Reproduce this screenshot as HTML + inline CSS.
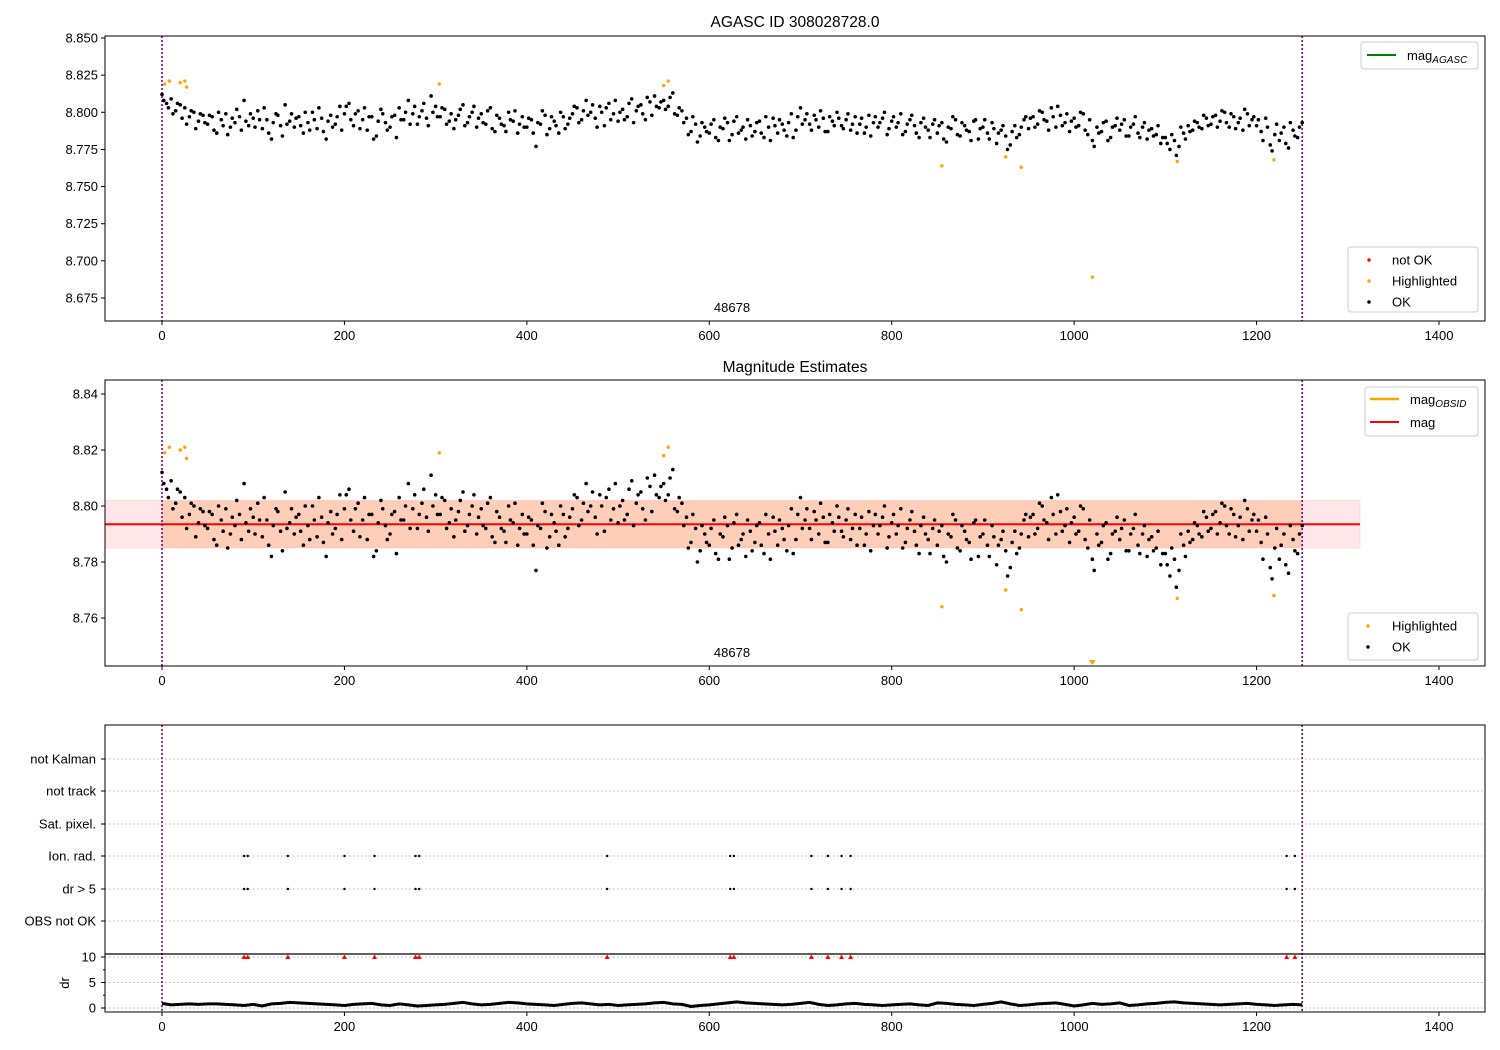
<!DOCTYPE html>
<html><head><meta charset="utf-8">
<style>
html,body{margin:0;padding:0;background:#fff;}
svg{display:block;font-family:"Liberation Sans","DejaVu Sans",sans-serif;}
</style></head>
<body>
<svg id="chart" width="1500" height="1050" viewBox="0 0 1500 1050" xmlns="http://www.w3.org/2000/svg"></svg>
<script>
// ---- data ----
const mags = [
8.812,8.806,8.809,8.801,8.805,8.803,8.797,8.800,8.794,8.798,
8.792,8.797,8.786,8.795,8.799,8.790,8.793,8.797,8.808,8.791,
8.796,8.801,8.789,8.795,8.782,8.799,8.791,8.805,8.794,8.790,
8.797,8.786,8.793,8.800,8.789,8.796,8.782,8.798,8.792,8.804,
8.799,8.806,8.791,8.801,8.795,8.788,8.797,8.784,8.802,8.793,
8.790,8.798,8.803,8.795,8.808,8.799,8.792,8.801,8.796,8.811,
8.804,8.797,8.802,8.794,8.789,8.798,8.805,8.793,8.800,8.790,
8.799,8.792,8.803,8.787,8.796,8.791,8.800,8.794,8.786,8.797,
8.790,8.795,8.777,8.792,8.798,8.789,8.794,8.786,8.797,8.792,
8.799,8.803,8.795,8.808,8.800,8.796,8.804,8.791,8.806,8.799,
8.794,8.802,8.797,8.809,8.801,8.805,8.795,8.807,8.811,8.803,
8.808,8.804,8.813,8.798,8.801,8.796,8.787,8.792,8.784,8.790,
8.786,8.795,8.781,8.789,8.793,8.785,8.797,8.788,8.782,8.791,
8.787,8.794,8.783,8.790,8.796,8.786,8.792,8.784,8.799,8.788,
8.803,8.795,8.792,8.798,8.790,8.796,8.787,8.794,8.800,8.791,
8.795,8.788,8.797,8.792,8.786,8.798,8.793,8.790,8.796,8.785,
8.794,8.790,8.799,8.787,8.795,8.791,8.783,8.796,8.788,8.792,
8.786,8.793,8.780,8.789,8.795,8.784,8.791,8.787,8.794,8.782,
8.790,8.786,8.793,8.779,8.788,8.784,8.778,8.791,8.785,8.795,
8.789,8.797,8.792,8.800,8.794,8.803,8.790,8.798,8.793,8.787,
8.796,8.791,8.799,8.785,8.781,8.790,8.787,8.794,8.783,8.791,
8.788,8.795,8.784,8.792,8.786,8.790,8.782,8.789,8.785,8.779,
8.783,8.775,8.781,8.777,8.786,8.791,8.788,8.793,8.789,8.796,
8.792,8.798,8.794,8.800,8.790,8.797,8.793,8.788,8.799,8.795,
8.791,8.787,8.796,8.778,8.785,8.781,8.790,8.776,8.788,8.783,
8.793];
const magStep = 5;
const magsB = [
8.808,8.803,8.799,8.806,8.796,8.792,8.801,8.789,8.799,8.793,
8.798,8.788,8.800,8.791,8.785,8.796,8.802,8.788,8.794,8.799,
8.790,8.795,8.803,8.786,8.793,8.798,8.784,8.792,8.799,8.796,
8.791,8.800,8.788,8.795,8.803,8.787,8.794,8.790,8.797,8.788,
8.804,8.795,8.799,8.789,8.803,8.797,8.782,8.794,8.799,8.788,
8.797,8.783,8.795,8.800,8.792,8.804,8.797,8.806,8.791,8.800,
8.797,8.803,8.792,8.799,8.795,8.802,8.791,8.797,8.804,8.796,
8.793,8.801,8.789,8.798,8.792,8.787,8.795,8.801,8.792,8.790,
8.796,8.786,8.793,8.801,8.785,8.797,8.791,8.800,8.789,8.796,
8.804,8.793,8.801,8.798,8.805,8.790,8.800,8.803,8.795,8.808,
8.800,8.795,8.806,8.793,8.804,8.799,8.810,8.798,8.804,8.807,
8.802,8.810,8.799,8.803,8.793,8.785,8.797,8.780,8.793,8.787,
8.792,8.783,8.790,8.796,8.781,8.794,8.786,8.790,8.795,8.784,
8.793,8.786,8.797,8.781,8.791,8.795,8.788,8.793,8.783,8.797,
8.792,8.799,8.788,8.795,8.801,8.787,8.797,8.791,8.796,8.789,
8.799,8.792,8.786,8.796,8.790,8.784,8.797,8.793,8.800,8.789,
8.797,8.793,8.785,8.792,8.798,8.786,8.793,8.790,8.783,8.795,
8.791,8.782,8.790,8.797,8.785,8.793,8.788,8.781,8.795,8.789,
8.795,8.782,8.789,8.786,8.791,8.775,8.787,8.783,8.790,8.797,
8.796,8.790,8.801,8.795,8.788,8.797,8.804,8.791,8.799,8.794,
8.790,8.800,8.788,8.795,8.777,8.786,8.793,8.781,8.790,8.796,
8.792,8.784,8.790,8.797,8.783,8.793,8.788,8.784,8.791,8.783,
8.779,8.785,8.771,8.790,8.782,8.787,8.794,8.790,8.798,8.791,
8.797,8.790,8.801,8.793,8.799,8.789,8.796,8.802,8.791,8.797,
8.795,8.781,8.790,8.774,8.792,8.786,8.779,8.793,8.784,8.790];
const magsBStart = 2;
const hiIdx = [3,8,20,25,27,304,550,555,855,925,942,1020,1113,1219];
const hiMag = [8.819,8.821,8.820,8.821,8.817,8.819,8.818,8.821,8.764,8.770,8.763,8.689,8.767,8.768];
const eventIdx = [90,94,138,200,233,278,282,488,623,627,712,730,745,755,1233,1242];
const drVals = [
0.9,0.6,0.7,0.8,0.7,0.8,0.8,0.7,0.6,0.5,
0.7,0.4,0.8,0.9,1.1,1.0,0.9,0.8,0.7,0.6,
0.5,0.7,0.8,0.9,0.6,0.5,0.8,0.6,0.4,0.5,
0.6,0.7,0.9,1.1,0.8,0.6,0.7,0.9,1.1,1.0,
0.8,0.7,0.6,0.5,0.7,0.9,1.0,0.8,0.6,0.7,
0.5,0.6,0.7,0.8,1.0,1.1,0.8,0.7,0.3,0.5,
0.6,0.8,1.0,1.2,1.0,0.9,0.8,0.7,0.6,0.7,
0.9,1.1,0.7,0.5,0.6,0.8,0.9,0.7,0.6,0.5,
0.6,0.7,0.8,0.6,0.5,1.0,0.9,0.7,0.6,0.5,
0.7,0.9,1.2,0.8,0.5,0.6,0.8,0.9,1.0,0.7,
0.4,0.6,0.9,0.7,0.8,1.0,0.5,0.6,0.8,0.9,
1.1,1.2,1.0,0.9,0.8,0.7,0.6,0.7,0.8,0.9,
0.7,0.6,0.5,0.6,0.7,0.6];
const drStep = 10;
const xTicks = [0,200,400,600,800,1000,1200,1400];
const y1Ticks = [8.675,8.700,8.725,8.750,8.775,8.800,8.825,8.850];
const y2Ticks = [8.76,8.78,8.80,8.82,8.84];
const catLabels = ["not Kalman","not track","Sat. pixel.","Ion. rad.","dr > 5","OBS not OK"];
const drTicks = [0,5,10];
const magMean = 8.7935, bandLo = 8.785, bandHi = 8.802;

// ---- helpers ----
const svg = document.getElementById('chart');
const NS = 'http://www.w3.org/2000/svg';
function mk(tag, attrs, parent){const e=document.createElementNS(NS,tag);for(const k in attrs)e.setAttribute(k,attrs[k]);(parent||svg).appendChild(e);return e;}
function txt(s, attrs, parent){const e=mk('text',attrs,parent);e.textContent=s;return e;}
const L=105,R=1485;
const x = v => 162 + v*(1277/1400);
const y1 = v => 38 + (8.850 - v)*(260/0.175);
const y2 = v => 394 + (8.840 - v)*(56/0.02);
const catY = [759,791,824,856,889,921];
const yd = v => 1008 - v*(51/10);

function frame(top,bot,name){
  const r=mk('rect',{x:L,y:top,width:R-L,height:bot-top,fill:'none',stroke:'#000','stroke-width':1});
  
}
function xAxis(bot,name){
  const g=mk('g',{});
  xTicks.forEach(t=>{mk('line',{x1:x(t),x2:x(t),y1:bot,y2:bot+4,stroke:'#000'},g);
    txt(String(t),{x:x(t),y:bot+19,'font-size':13,'text-anchor':'middle'},g);});
}
function vlines(top,bot){
  [0,1250].forEach(t=>{const l=mk('line',{x1:x(t),x2:x(t),y1:top,y2:bot,stroke:'#800080','stroke-width':1.6,'stroke-dasharray':'2,2'});
    });
}
function drawMags(g, yf){
  mags.forEach((m,i)=>mk('circle',{cx:x(i*magStep),cy:yf(m),r:1.8,fill:'#000'},g));
  magsB.forEach((m,i)=>mk('circle',{cx:x(magsBStart+i*magStep),cy:yf(m),r:1.8,fill:'#000'},g));
}

// ---- Panel 1 ----
const P1T=36,P1B=321;
txt('AGASC ID 308028728.0',{x:795,y:27,'font-size':15.5,'text-anchor':'middle',});
{const g=mk('g',{});
 y1Ticks.forEach(t=>{mk('line',{x1:L-4,x2:L,y1:y1(t),y2:y1(t),stroke:'#000'},g);
  txt(t.toFixed(3),{x:L-7,y:y1(t)+4.5,'font-size':13,'text-anchor':'end'},g);});}
vlines(P1T,P1B);
{const g=mk('g',{});
 drawMags(g,y1);
 const h=mk('g',{});
 hiIdx.forEach((t,i)=>mk('circle',{cx:x(t),cy:y1(hiMag[i]),r:1.7,fill:'orange'},h));}
txt('48678',{x:732,y:312,'font-size':13,'text-anchor':'middle',});
frame(P1T,P1B,'plot-area-panel1');
xAxis(P1B,'x-axis-panel1');
{const g=mk('g',{});
 mk('rect',{x:1361,y:42,width:117,height:27,rx:3,fill:'#fff',stroke:'#ccc'},g);
 mk('line',{x1:1367,x2:1396,y1:55,y2:55,stroke:'green','stroke-width':2},g);
 const t=txt('mag',{x:1407,y:60,'font-size':13},g);
 const s=mk('tspan',{'font-size':10,'font-style':'italic',dy:3},t);s.textContent='AGASC';}
{const g=mk('g',{});
 mk('rect',{x:1348,y:247,width:130,height:65,rx:3,fill:'#fff',stroke:'#ccc'},g);
 [['not OK','red',260],['Highlighted','orange',281],['OK','#000',302]].forEach(a=>{
  mk('circle',{cx:1369,cy:a[2],r:1.7,fill:a[1]},g);txt(a[0],{x:1392,y:a[2]+4.5,'font-size':13},g);});}

// ---- Panel 2 ----
const P2T=380,P2B=666;
txt('Magnitude Estimates',{x:795,y:372,'font-size':15.5,'text-anchor':'middle',});
{const g=mk('g',{});
 y2Ticks.forEach(t=>{mk('line',{x1:L-4,x2:L,y1:y2(t),y2:y2(t),stroke:'#000'},g);
  txt(t.toFixed(2),{x:L-7,y:y2(t)+4.5,'font-size':13,'text-anchor':'end'},g);});}
{const b=mk('rect',{x:L,y:y2(bandHi),width:1360-L,height:y2(bandLo)-y2(bandHi),fill:'#ffb6c1','fill-opacity':0.35,stroke:'#ffb6c1','stroke-opacity':0.4});
 
 const b2=mk('rect',{x:x(0),y:y2(bandHi),width:x(1250)-x(0),height:y2(bandLo)-y2(bandHi),fill:'#ffa060','fill-opacity':0.35});
 
 const l=mk('line',{x1:L,x2:1360,y1:y2(magMean),y2:y2(magMean),stroke:'red','stroke-width':2});
 }
vlines(P2T,P2B);
{const g=mk('g',{});
 drawMags(g,y2);
 const h=mk('g',{});
 hiIdx.forEach((t,i)=>{const yy=y2(hiMag[i]);
  if(yy>P2B){mk('path',{d:`M${x(t)-3.5},${P2B-6} L${x(t)+3.5},${P2B-6} L${x(t)},${P2B-1} Z`,fill:'orange'},h);}
  else mk('circle',{cx:x(t),cy:yy,r:1.7,fill:'orange'},h);});}
txt('48678',{x:732,y:657,'font-size':13,'text-anchor':'middle',});
frame(P2T,P2B,'plot-area-panel2');
xAxis(P2B,'x-axis-panel2');
{const g=mk('g',{});
 mk('rect',{x:1365,y:387,width:113,height:49,rx:3,fill:'#fff',stroke:'#ccc'},g);
 mk('line',{x1:1370,x2:1399,y1:399,y2:399,stroke:'orange','stroke-width':2.5},g);
 const t=txt('mag',{x:1410,y:404,'font-size':13},g);
 const s=mk('tspan',{'font-size':10,'font-style':'italic',dy:3},t);s.textContent='OBSID';
 mk('line',{x1:1370,x2:1399,y1:422,y2:422,stroke:'red','stroke-width':2},g);
 txt('mag',{x:1410,y:427,'font-size':13},g);}
{const g=mk('g',{});
 mk('rect',{x:1348,y:613,width:130,height:47,rx:3,fill:'#fff',stroke:'#ccc'},g);
 [['Highlighted','orange',626],['OK','#000',647]].forEach(a=>{
  mk('circle',{cx:1368,cy:a[2],r:1.7,fill:a[1]},g);txt(a[0],{x:1392,y:a[2]+4.5,'font-size':13},g);});}

// ---- Panel 3 ----
const P3T=725,P3M=954,P3B=1012;
{const g=mk('g',{});
 catLabels.forEach((c,i)=>{mk('line',{x1:L,x2:R,y1:catY[i],y2:catY[i],stroke:'#b0b0b0','stroke-dasharray':'1.5,2.5'},g);
  mk('line',{x1:L-4,x2:L,y1:catY[i],y2:catY[i],stroke:'#000'},g);
  txt(c,{x:L-9,y:catY[i]+4.5,'font-size':13,'text-anchor':'end'},g);});}
{const g=mk('g',{});
 drTicks.forEach(t=>{mk('line',{x1:L,x2:R,y1:yd(t),y2:yd(t),stroke:'#b0b0b0','stroke-dasharray':'1.5,2.5'},g);
  mk('line',{x1:L-4,x2:L,y1:yd(t),y2:yd(t),stroke:'#000'},g);
  txt(String(t),{x:L-9,y:yd(t)+4.5,'font-size':13,'text-anchor':'end'},g);});
 [2.5,7.5].forEach(t=>mk('line',{x1:L-2,x2:L,y1:yd(t),y2:yd(t),stroke:'#000'},g));
 txt('dr',{x:0,y:0,'font-size':13,'text-anchor':'middle',transform:'translate(69,983) rotate(-90)'},g);}
vlines(P3T,P3B);
{const g=mk('g',{});
 eventIdx.forEach(t=>{[3,4].forEach(r=>mk('circle',{cx:x(t),cy:catY[r],r:1.2,fill:'#000'},g));
  mk('path',{d:`M${x(t)-2.5},${yd(10)+2} L${x(t)+2.5},${yd(10)+2} L${x(t)},${yd(10)-2.5} Z`,fill:'red'},g);});}
{const g=mk('g',{});
 let d='';drVals.forEach((v,i)=>{d+=(i?'L':'M')+x(i*drStep).toFixed(1)+','+yd(v).toFixed(1)+' ';});
 mk('path',{d:d,fill:'none',stroke:'#000','stroke-width':3}, g);}
mk('line',{x1:L,x2:R,y1:P3M,y2:P3M,stroke:'#000','stroke-width':1.2});
frame(P3T,P3B,'plot-area-panel3');
xAxis(P3B,'x-axis-panel3');
</script>
</body></html>
